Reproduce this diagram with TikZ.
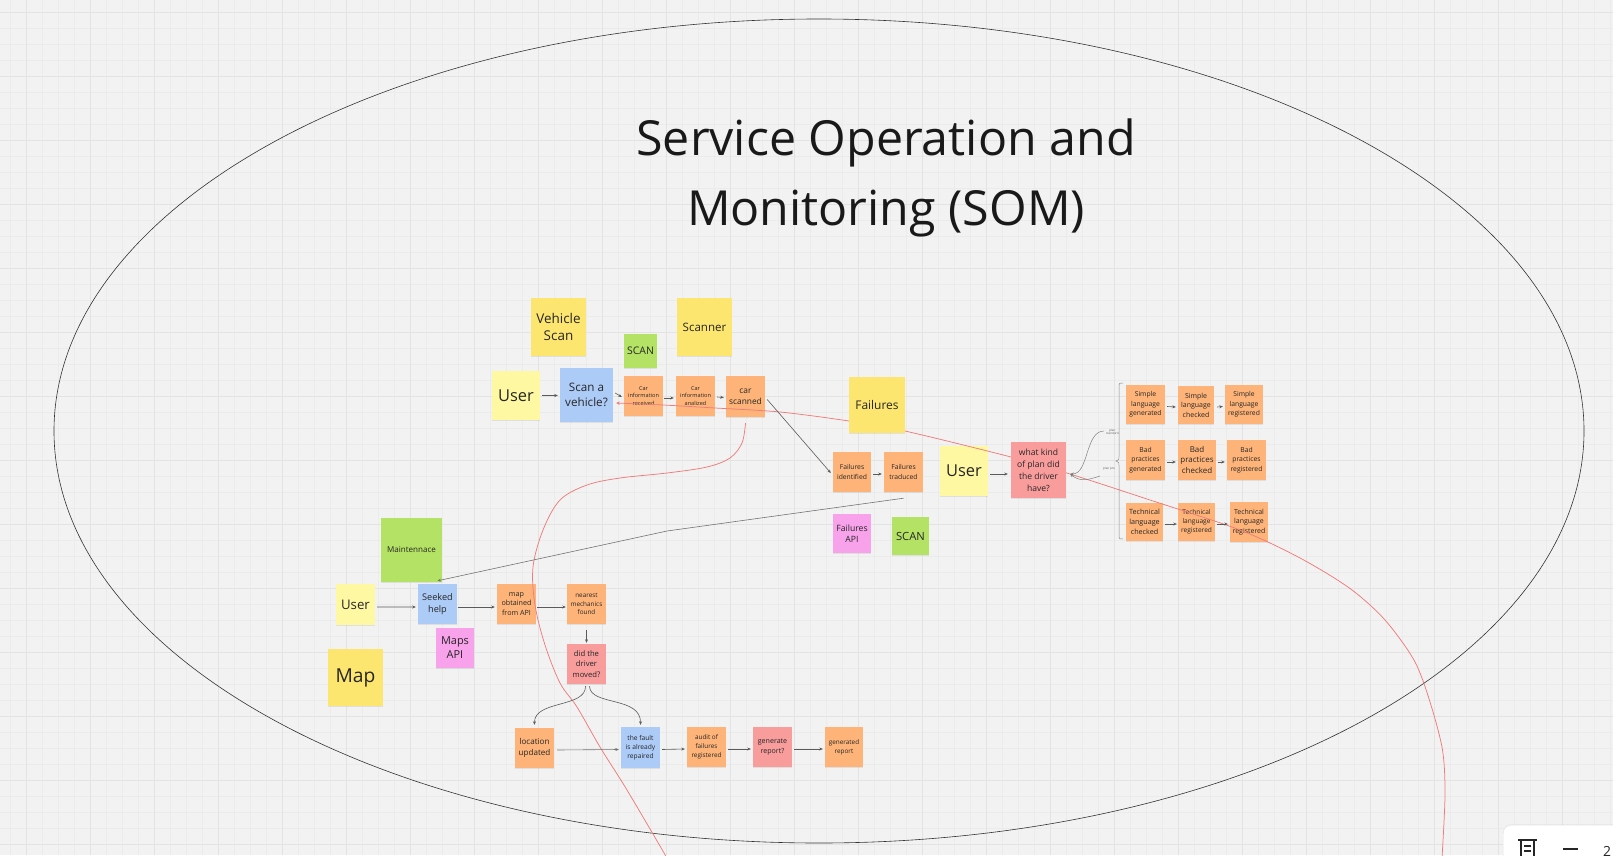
\documentclass[tikz,border=0pt]{standalone}
\usepackage{fontspec}
\setmainfont{Open Sans}
\usetikzlibrary{arrows.meta,calc,shadows}
\definecolor{bgc}{HTML}{F2F2F2}
\definecolor{minorc}{HTML}{EBEBEB}
\definecolor{majorc}{HTML}{E3E3E3}
\definecolor{yel}{HTML}{FDE670}
\definecolor{lyel}{HTML}{FFF8A3}
\definecolor{blu}{HTML}{ADCBF7}
\definecolor{org}{HTML}{FEB478}
\definecolor{grn}{HTML}{B4E264}
\definecolor{pnk}{HTML}{F7A2EA}
\definecolor{rdn}{HTML}{F99C9C}
\definecolor{txt}{HTML}{262626}
\definecolor{conc}{HTML}{5A5A5A}
\definecolor{redl}{HTML}{EF7B7B}
\tikzset{
  note/.style={rectangle, inner sep=0pt, align=center, text=txt,
    drop shadow={shadow xshift=0bp, shadow yshift=-1.3bp, opacity=0.16}},
  sz/.style 2 args={minimum width=#1bp, minimum height=#2bp},
  fs/.style 2 args={font=\fontsize{#1}{#2}\selectfont},
  con/.style={draw=conc, line width=0.6bp, -{Stealth[length=3.5bp,width=3bp]}},
  redc/.style={draw=redl, line width=0.75bp},
  lbl/.style={inner sep=0pt, align=center, text=conc, font=\fontsize{3}{3.6}\selectfont}
}
\begin{document}
\begin{tikzpicture}[x=1bp,y=-1bp]
\useasboundingbox (0,0) rectangle (1613,855);
% background grid
\fill[bgc] (0,0) rectangle (1613,855);
\foreach \x in {10,26,...,1610} \draw[minorc, line width=0.5bp] (\x,0) -- (\x,855);
\foreach \y in {12,28,...,855} \draw[minorc, line width=0.5bp] (0,\y) -- (1613,\y);
\foreach \x in {26,90,...,1610} \draw[majorc, line width=1bp] (\x,0) -- (\x,855);
\foreach \y in {12,76,...,855} \draw[majorc, line width=1bp] (0,\y) -- (1613,\y);
% big ellipse
\draw[black!80, line width=0.6bp] (819,431) ellipse [x radius=765bp, y radius=412bp];
% title
\node[text=black!90, align=center, font=\fontsize{48.5}{70}\selectfont] (title) at (886,178) {Service Operation and\\Monitoring (SOM)};

% upper flow
\node[note,fill=yel,sz={55}{58},fs={13.5}{17}] (vscan) at (558.5,327) {Vehicle\\Scan};
\node[note,fill=yel,sz={55}{58},fs={11.6}{15}] (scanner) at (704.5,327) {Scanner};
\node[note,fill=grn,sz={33}{34},fs={10.5}{13}] (scan1) at (640.5,351) {SCAN};
\node[note,fill=lyel,sz={48}{49},fs={16.5}{20}] (user1) at (516,395.5) {User};
\node[note,fill=blu,sz={53}{54},fs={11.7}{15.5}] (scanv) at (586.5,395) {Scan a\\vehicle?};
\node[note,fill=org,sz={39}{40},fs={5.6}{7.8}] (carrec) at (643.5,396) {Car\\information\\received};
\node[note,fill=org,sz={39}{40},fs={5.6}{7.8}] (carana) at (695.5,396) {Car\\information\\analized};
\node[note,fill=org,sz={39}{41},fs={8.4}{11.4}] (carscan) at (745.5,396.5) {car\\scanned};
\node[note,fill=org,sz={38}{40},fs={6.8}{9.5}] (failid) at (852,472) {Failures\\identified};
\node[note,fill=org,sz={39}{40},fs={6.8}{9.5}] (failtr) at (903.5,472) {Failures\\traduced};
\node[note,fill=lyel,sz={48}{50},fs={16.5}{20}] (user2) at (964,471) {User};
\node[note,fill=pnk,sz={38}{39},fs={8.7}{11}] (failapi) at (852,533.5) {Failures\\API};
\node[note,fill=grn,sz={37}{38},fs={11.3}{14}] (scan2) at (910.5,536) {SCAN};

% right column
\node[note,fill=org,sz={39}{39},fs={6.8}{9.4}] (sg) at (1145.5,404.5) {Simple\\language\\generated};
\node[note,fill=org,sz={36}{38},fs={7}{9.6}] (sc) at (1196,405) {Simple\\language\\checked};
\node[note,fill=org,sz={38}{39},fs={6.8}{9.4}] (sr) at (1244,404.5) {Simple\\language\\registered};
\node[note,fill=org,sz={39}{40},fs={6.8}{9.4}] (bg) at (1145.5,460) {Bad\\practices\\generated};
\node[note,fill=org,sz={38}{40},fs={8}{10.4}] (bc) at (1197,460) {Bad\\practices\\checked};
\node[note,fill=org,sz={39}{40},fs={6.8}{9.4}] (br) at (1246.5,460) {Bad\\practices\\registered};
\node[note,fill=org,sz={37}{38},fs={7.2}{9.8}] (tc) at (1144.5,522) {Technical\\language\\checked};
\node[note,fill=org,sz={37}{38},fs={6.6}{9.2}] (tr1) at (1196.5,522) {Technical\\language\\registered};
\node[note,fill=org,sz={38}{40},fs={7}{9.6}] (tr2) at (1249,522) {Technical\\language\\registered};

% lower flow
\node[note,fill=grn,sz={61}{64},fs={8.1}{11}] (maint) at (411.5,550) {Maintennace};
\node[note,fill=lyel,sz={39}{41},fs={13.3}{16}] (user3) at (355.5,604.5) {User};
\node[note,fill=blu,sz={39}{40},fs={9.2}{12.5}] (seek) at (437.5,604) {Seeked\\help};
\node[note,fill=org,sz={39}{40},fs={7.2}{9.8}] (mapob) at (516.5,604) {map\\obtained\\from API};
\node[note,fill=org,sz={39}{40},fs={6.4}{8.8}] (near) at (586.5,604) {nearest\\mechanics\\found};
\node[note,fill=pnk,sz={38}{40},fs={11}{14}] (mapsapi) at (455,648) {Maps\\API};
\node[note,fill=yel,sz={55}{57},fs={19.3}{23}] (map) at (355.5,677.5) {Map};
\node[note,fill=rdn,sz={39}{40},fs={7.7}{10.6}] (moved) at (586.5,664) {did the\\driver\\moved?};
\node[note,fill=org,sz={39}{40},fs={8.1}{11}] (locu) at (534.5,748) {location\\updated};
\node[note,fill=blu,sz={39}{41},fs={6.7}{9.2}] (fault) at (640.5,747.5) {the fault\\is already\\repaired};
\node[note,fill=org,sz={39}{40},fs={6.4}{8.8}] (audit) at (706.5,747) {audit of\\failures\\registered};
\node[note,fill=rdn,sz={39}{40},fs={7.1}{9.8}] (genq) at (772.5,747) {generate\\report?};
\node[note,fill=org,sz={38}{40},fs={6.4}{8.8}] (genr) at (844,747) {generated\\report};

% red curves
\coordinate (redA) at (1442,858);
\coordinate (redB) at (667,858);
\draw[redc, -{Stealth[length=3.5bp,width=3.5bp]}] plot[smooth, tension=0.5] coordinates {(redA) (1445,795) (1442.5,750) (1430,702) (1414.5,661) (1385,620) (1350,588.5) (1300,558) (1240,530) (1150,500) (1070,474) (1011,457) (905,431) (849,421) (780,412) (715,408) (663,405) ($(scanv.east)+(3,8)$)};
\draw[redc] plot[smooth, tension=0.55] coordinates {($(carscan.south)+(0,6)$) (742,443) (730,458) (707,467) (667,473) (620,478) (587,485) (560,500) (543,530) (533,567) (535,605) (545,645) (560,683) (577,707) (600,747) (627,790) (redB)};

% notes drawn above the red line
\node[note,fill=yel,sz={56}{56},fs={12}{15}] (fail) at (877,405) {Failures};
\node[note,fill=rdn,sz={55}{56},fs={8.6}{12}] (plan) at (1038.5,470) {what kind\\of plan did\\the driver\\have?};

% connectors
\draw[con] ([xshift=2bp]user1.east) -- ([xshift=-2bp]scanv.west |- user1.east);
\draw[con] ($(scanv.east)+(2,-2)$) -- ($(carrec.west)+(-2,1)$);
\draw[con] ($(carrec.east)+(1,2)$) -- ($(carana.west)+(-2,2)$);
\draw[con] ($(carana.east)+(2,1)$) -- ($(carscan.west)+(-2,1)$);
\draw[con] ($(carscan.east)+(2,3)$) -- ($(failid.west)+(-2,1)$);
\draw[con] ($(failid.east)+(2,2)$) -- ($(failtr.west)+(-2,2)$);
\draw[con] ($(user2.east)+(2,3)$) -- ($(plan.west)+(-3,4)$);
\coordinate (bend) at (667,531);
\draw[con, draw=black!55] ($(failtr.south)+(0,6)$) -- (bend) -- ($(seek.north)+(0,-3)$);
\draw[con] ($(sg.east)+(2,2)$) -- ($(sc.west)+(-2,2)$);
\draw[con] ($(sc.east)+(3,2)$) -- ($(sr.west)+(-2,2)$);
\draw[con] ($(bg.east)+(2,2)$) -- ($(bc.west)+(-2,2)$);
\draw[con] ($(bc.east)+(2,2)$) -- ($(br.west)+(-2,2)$);
\draw[con] ($(tc.east)+(2,2)$) -- ($(tr1.west)+(-1,2)$);
\draw[con] ($(tr1.east)+(2,2)$) -- ($(tr2.west)+(-2,2)$);
\draw[con] ($(user3.east)+(2,2.5)$) -- ($(seek.west)+(-2,3)$);
\draw[con] ($(seek.east)+(1,3)$) -- ($(mapob.west)+(-2,3)$);
\draw[con] ($(mapob.east)+(1,3)$) -- ($(near.west)+(-1,3)$);
\draw[con] ($(near.south)+(0,6)$) -- ($(moved.north)+(0,-1)$);
\draw[con] ($(moved.south)+(-1,2)$) .. controls (586,708) and (534,700) .. ($(locu.north)+(0,-3)$);
\draw[con] ($(moved.south)+(3,2)$) .. controls (590,706) and (641,696) .. ($(fault.north)+(0,-2)$);
\draw[con, draw=black!55] ($(locu.east)+(3,2)$) -- ($(fault.west)+(-2,2)$);
\draw[con] ($(fault.east)+(2,2)$) -- ($(audit.west)+(-2,2)$);
\draw[con] ($(audit.east)+(2,2)$) -- ($(genq.west)+(-2,2)$);
\draw[con] ($(genq.east)+(2,2)$) -- ($(genr.west)+(-2,2)$);

% plan branches
\coordinate (psend) at (1104,431);
\coordinate (ppend) at (1100,476);
\draw[con, draw=black!50, line width=0.5bp] (psend) .. controls (1085,431) and (1089,474) .. ($(plan.east)+(4,4)$);
\draw[con, draw=black!50, line width=0.5bp] (ppend) .. controls (1088,480) and (1080,482) .. ($(plan.east)+(4,4)$);
\node[lbl, anchor=west] (lps) at (1106,432) {plan\\standard};
\node[lbl, anchor=west] (lpp) at (1103,469) {plan pro};
\draw[black!45, line width=0.5bp] (1123,383) .. controls (1119,383) .. (1119,388) -- (1119,456) .. controls (1119,460) .. (1116,461) .. controls (1119,462) .. (1119,466) -- (1119,534) .. controls (1119,539) .. (1123,539);

% toolbar fragment
\node[draw=black!10, fill=white, rounded corners=8bp, minimum width=140bp, minimum height=50bp, anchor=north west,
  drop shadow={shadow xshift=0bp, shadow yshift=1bp, opacity=0.08}] (tb) at (1503,825) {};
\draw[black!85, line width=1.8bp] (1518,840) -- (1537,840);
\draw[black!85, line width=1.6bp] (1521,840) -- (1521,856) (1534,840) -- (1534,856) (1524,846) -- (1531,846) (1524,851) -- (1531,851);
\draw[black!85, line width=1.8bp] (1563,849) -- (1578,849);
\node[text=black!85, font=\fontsize{14}{14}\selectfont, anchor=west, inner sep=0pt] (zoomtxt) at (1603,851) {2};
\end{tikzpicture}
\end{document}
